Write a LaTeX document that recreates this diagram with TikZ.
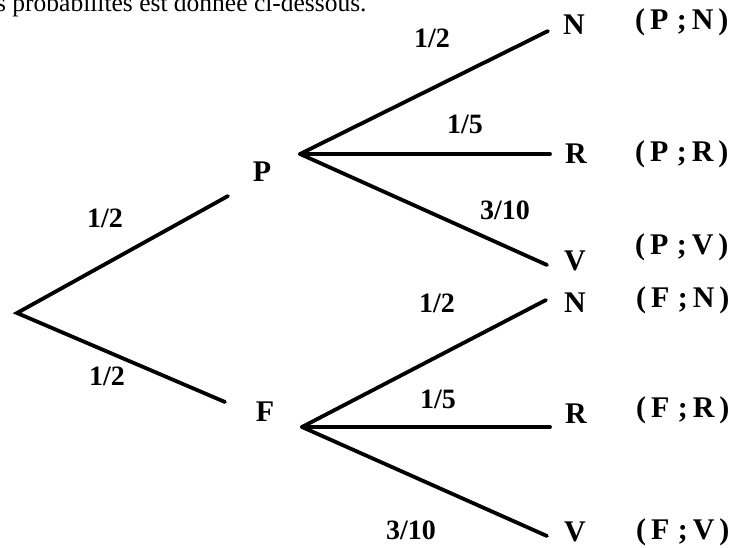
\documentclass[tikz,border=0pt]{standalone}
\usepackage{fontspec}
\setmainfont{Liberation Serif}
\begin{document}
\begin{tikzpicture}[x=1pt,y=-1pt,
  branch/.style={line width=3.8pt,line cap=round},
  lbl/.style={font=\fontsize{30}{34}\selectfont\bfseries,inner sep=0pt},
  prob/.style={font=\fontsize{28}{32}\selectfont\bfseries,inner sep=0pt},
  pair/.style={font=\fontsize{30}{34}\selectfont\bfseries,inner sep=0pt,anchor=west}]
\clip (0,0) rectangle (736,547);
\useasboundingbox (0,0) rectangle (736,547);
\fill[white] (0,0) rectangle (736,547);

% sentence cut off above the tree
\node[anchor=base west,inner sep=0pt,font=\fontsize{25.5}{30}\selectfont] (intro) at (-4,11) {s probabilités est donnée ci-dessous.};

% branch points
\coordinate (O) at (17,313);
\coordinate (Pend) at (228,196);
\coordinate (Fend) at (225,402);
\coordinate (P) at (300,154);
\coordinate (F) at (302,427);
\coordinate (PN) at (548,31);
\coordinate (PR) at (550,154);
\coordinate (PV) at (547,265);
\coordinate (FN) at (546,300);
\coordinate (FR) at (550,427);
\coordinate (FV) at (547,536);

% first level
\draw[branch] (Pend) -- (O) -- (Fend);
\node[lbl] (lP) at (262,172) {P};
\node[lbl] (lF) at (265,412) {F};
\node[prob] (p1) at (105,218) {1/2};
\node[prob] (p2) at (107,376) {1/2};

% second level after P
\draw[branch] (P) -- (PN);
\draw[branch] (P) -- (PR);
\draw[branch] (P) -- (PV);
\node[lbl] (lPN) at (574,25) {N};
\node[lbl] (lPR) at (576,154) {R};
\node[lbl] (lPV) at (575,261) {V};
\node[prob] (pPN) at (432,38) {1/2};
\node[prob] (pPR) at (465,124) {1/5};
\node[prob] (pPV) at (505,210) {3/10};

% second level after F
\draw[branch] (F) -- (FN);
\draw[branch] (F) -- (FR);
\draw[branch] (F) -- (FV);
\node[lbl] (lFN) at (575,303) {N};
\node[lbl] (lFR) at (576,414) {R};
\node[lbl] (lFV) at (575,532) {V};
\node[prob] (pFN) at (437,303) {1/2};
\node[prob] (pFR) at (438,399) {1/5};
\node[prob] (pFV) at (411,530) {3/10};

% outcomes
\node[pair] (oPN) at (635,22) {(\,P\;;\,N\,)};
\node[pair] (oPR) at (635,154) {(\,P\;;\,R\,)};
\node[pair] (oPV) at (635,247) {(\,P\;;\,V\,)};
\node[pair] (oFN) at (636,300) {(\,F\;;\,N\,)};
\node[pair] (oFR) at (636,410) {(\,F\;;\,R\,)};
\node[pair] (oFV) at (636,532) {(\,F\;;\,V\,)};
\end{tikzpicture}
\end{document}
